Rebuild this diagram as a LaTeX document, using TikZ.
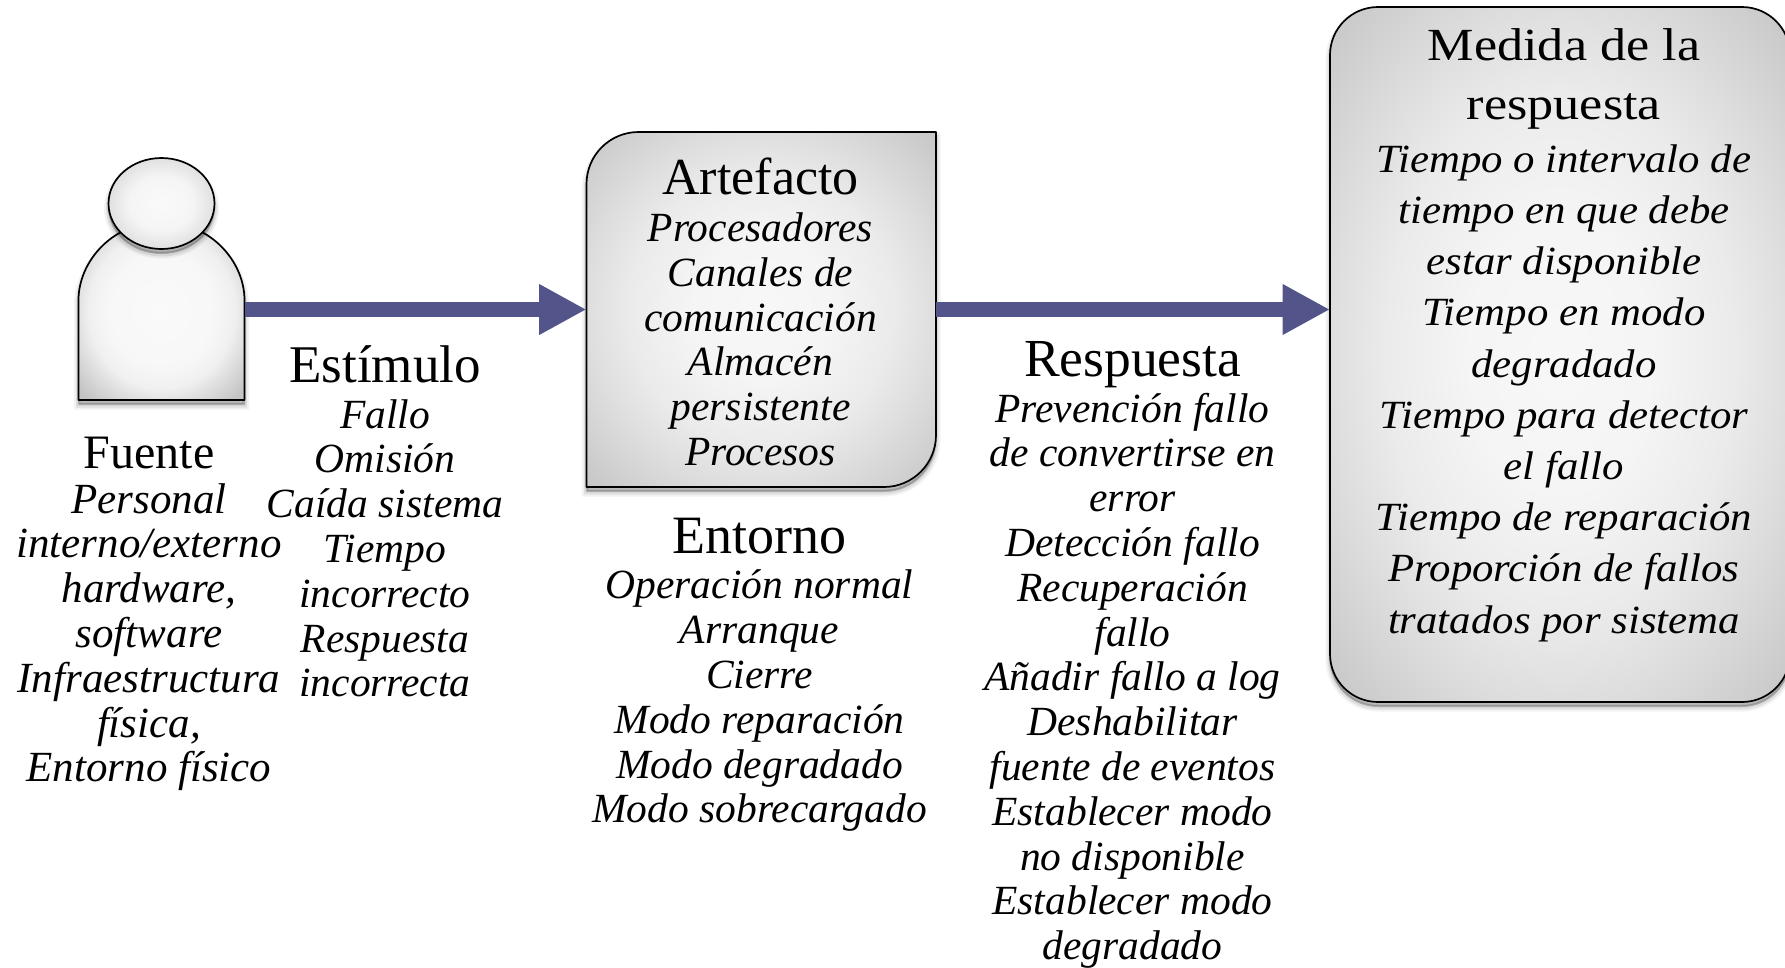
\documentclass[tikz,border=0pt]{standalone}
\usepackage{fontspec}
\setmainfont{Liberation Serif}
\newfontfamily\medtitlefont[FakeStretch=1.134]{Liberation Serif}
\newfontfamily\medbodyfont[FakeStretch=1.07]{Liberation Serif}
\usetikzlibrary{arrows.meta}
\definecolor{arrowblue}{RGB}{83,84,138}
\pgfdeclareradialshading{boxshade}{\pgfpoint{0bp}{0bp}}{color(0bp)=(white!97!black);color(10bp)=(white!96!black);color(19bp)=(white!92!black);color(25bp)=(white!87!black);color(36bp)=(white!77!black);color(50bp)=(white!77!black)}
\pgfdeclareradialshading{personshade}{\pgfpoint{0bp}{0bp}}{color(0bp)=(white!98!black);color(16bp)=(white!97!black);color(22bp)=(white!94!black);color(25bp)=(white!89!black);color(33bp)=(white!77!black);color(50bp)=(white!77!black)}
\pgfdeclareradialshading{headshade}{\pgfpoint{0bp}{0bp}}{color(0bp)=(white!98!black);color(15bp)=(white!96!black);color(25bp)=(white!88!black);color(36bp)=(white!80!black);color(50bp)=(white!80!black)}
\tikzset{
  softshadow/.style={
    preaction={draw=black,fill=black,opacity=.05,line width=9pt,transform canvas={yshift=-5pt}},
    preaction={draw=black,fill=black,opacity=.08,line width=5pt,transform canvas={yshift=-5pt}},
    preaction={draw=black,fill=black,opacity=.12,line width=2pt,transform canvas={yshift=-4pt}}},
  shapeline/.style={draw=black,line width=1.7pt,line join=round},
  flow/.style={draw=arrowblue,line width=15.5pt,-{Triangle[length=47.5pt,width=47.5pt]}},
  titletext/.style={inner sep=0pt,align=center,font=\fontsize{#1}{50}\selectfont},
  bodytext/.style={inner sep=0pt,align=center,font=\fontsize{#1}{44.8}\selectfont\itshape},
  bodytext/.default=41.5,
  medtitle/.style={inner sep=0pt,align=center,font=\fontsize{46}{58.5}\selectfont\medtitlefont},
  medbody/.style={inner sep=0pt,align=center,font=\fontsize{40}{51.2}\selectfont\medbodyfont\itshape}
}
\begin{document}
\begin{tikzpicture}[x=1pt,y=-1pt]
\useasboundingbox (0,0) rectangle (1785,967);
% person
\path[softshadow,shapeline,shading=personshade]
  (78.5,400) -- (78.5,300) .. controls (78.5,262) and (112,222) .. (161.5,222)
  .. controls (211,222) and (244.5,262) .. (244.5,300) -- (244.5,400) -- cycle;
\path[softshadow,shapeline,shading=headshade] (161.5,203.5) ellipse [x radius=53,y radius=45.5];
% artefact
\path[softshadow,shapeline,shading=boxshade]
  (586.5,487) -- (586.5,184) arc[start angle=180,end angle=90,x radius=52,y radius=-52] -- (936,132)
  -- (936,435) arc[start angle=0,end angle=-90,x radius=52,y radius=-52] -- cycle;
% medida
\path[softshadow,shapeline,shading=boxshade]
  (1330,55) arc[start angle=180,end angle=90,x radius=48,y radius=-48] -- (1742,7)
  arc[start angle=90,end angle=0,x radius=48,y radius=-48] -- (1790,654)
  arc[start angle=0,end angle=-90,x radius=48,y radius=-48] -- (1378,702)
  arc[start angle=-90,end angle=-180,x radius=48,y radius=-48] -- cycle;
% connector ends
\coordinate (personE) at (244.5,309.5);
\coordinate (artefactW) at (586.5,309.5);
\coordinate (artefactE) at (936,309.5);
\coordinate (medidaW) at (1330,309.5);
\draw[flow] (personE) -- (artefactW);
\draw[flow] (artefactE) -- (medidaW);
% texts
\node[titletext=48] (fuenteT) at (149,453) {Fuente};
\node[bodytext=43] (fuenteB) at (149,638.5) {\strut Personal\\interno/externo\\hardware,\\software\\Infraestructura\\física,\\Entorno físico\strut};
\node[titletext=53] (estimuloT) at (385,364) {Estímulo};
\node[bodytext] (estimuloB) at (385,553.5) {\strut Fallo\\Omisión\\Caída sistema\\Tiempo\\incorrecto\\Respuesta\\incorrecta\strut};
\node[titletext=52] (artefactoT) at (760.5,176) {Artefacto};
\node[bodytext] (artefactoB) at (760.5,344.5) {\strut Procesadores\\Canales de\\comunicación\\Almacén\\persistente\\Procesos\strut};
\node[titletext=54] (entornoT) at (759.5,536) {Entorno};
\node[bodytext] (entornoB) at (759.5,702) {\strut Operación normal\\Arranque\\Cierre\\Modo reparación\\Modo degradado\\Modo sobrecargado\strut};
\node[titletext=53.5] (respuestaT) at (1132.5,364.5) {Respuesta};
\node[bodytext] (respuestaB) at (1132.5,682) {\strut Prevención fallo\\de convertirse en\\error\\Detección fallo\\Recuperación\\fallo\\Añadir fallo a log\\Deshabilitar\\fuente de eventos\\Establecer modo\\no disponible\\Establecer modo\\degradado\strut};
\node[medtitle] (medidaT) at (1564,78.5) {\strut Medida de la\\respuesta\strut};
\node[medbody] (medidaB) at (1564,392.5) {\strut Tiempo o intervalo de\\tiempo en que debe\\estar disponible\\Tiempo en modo\\degradado\\Tiempo para detector\\el fallo\\Tiempo de reparación\\Proporción de fallos\\tratados por sistema\strut};
\end{tikzpicture}
\end{document}
